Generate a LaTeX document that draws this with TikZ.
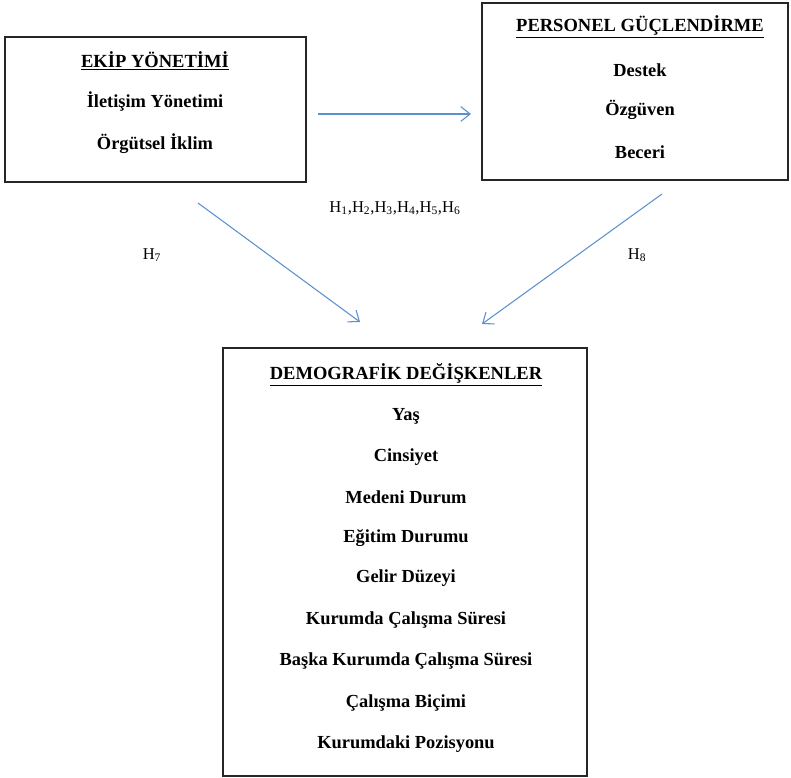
\documentclass[tikz,border=0pt]{standalone}
\usepackage{fontspec}
\setmainfont{Liberation Serif}
\usepackage{tikz}
\usetikzlibrary{arrows.meta}

\definecolor{okmavi}{RGB}{91,145,205}

\tikzset{
  kutu/.style={draw=black!85, line width=0.8pt, inner sep=0pt},
  baslik/.style={font=\fontsize{13.9}{16}\selectfont\bfseries, inner sep=0.75pt},
  madde/.style={font=\fontsize{13.8}{16}\selectfont\bfseries, inner sep=0.75pt},
  etiket/.style={font=\fontsize{12.4}{14}\selectfont, inner sep=0.75pt},
  ok/.style={draw=okmavi, line width=0.8pt, -{Straight Barb[length=7pt,width=11pt,line width=0.8pt]}}
}

\begin{document}
\begin{tikzpicture}[x=0.75pt,y=0.75pt,yscale=-1,xscale=1]
\useasboundingbox (0,0) rectangle (791,777);

% Kutular
\node [kutu, minimum width=301*0.75pt, minimum height=145*0.75pt] (ekip) at (155.5,109.5) {};
\node [kutu, minimum width=306*0.75pt, minimum height=177*0.75pt] (personel) at (635,91.5) {};
\node [kutu, minimum width=364*0.75pt, minimum height=428*0.75pt] (demo) at (405,562) {};

% Ekip yonetimi
\node [baslik] (ekipB) at (155,61) {\underline{EKİP YÖNETİMİ}};
\node [madde] (ekip1) at (155,102) {İletişim Yönetimi};
\node [madde] (ekip2) at (155,144) {Örgütsel İklim};

% Personel guclendirme
\node [baslik] (persB) at (640,27) {\underline{PERSONEL GÜÇLENDİRME}};
\node [madde] (pers1) at (640,70) {Destek};
\node [madde] (pers2) at (640,110) {Özgüven};
\node [madde] (pers3) at (640,152) {Beceri};

% Demografik degiskenler
\node [baslik] (demoB) at (406,375) {\underline{DEMOGRAFİK DEĞİŞKENLER}};
\node [madde] (demo1) at (406,416) {Yaş};
\node [madde] (demo2) at (406,457) {Cinsiyet};
\node [madde] (demo3) at (406,497) {Medeni Durum};
\node [madde] (demo4) at (406,538) {Eğitim Durumu};
\node [madde] (demo5) at (406,578) {Gelir Düzeyi};
\node [madde] (demo6) at (406,620) {Kurumda Çalışma Süresi};
\node [madde] (demo7) at (406,661) {Başka Kurumda Çalışma Süresi};
\node [madde] (demo8) at (406,703) {Çalışma Biçimi};
\node [madde] (demo9) at (406,744) {Kurumdaki Pozisyonu};

% Ok uclari
\coordinate (a1) at (318,114);
\coordinate (a2) at (471,114);
\coordinate (b1) at (198,203);
\coordinate (b2) at (360,322);
\coordinate (c1) at (662,194);
\coordinate (c2) at (482,324);

\draw [ok] (a1) -- (a2);
\draw [ok] (b1) -- (b2);
\draw [ok] (c1) -- (c2);

% Hipotez etiketleri
\node [etiket] (h16) at (395,208) {H\textsubscript{1},H\textsubscript{2},H\textsubscript{3},H\textsubscript{4},H\textsubscript{5},H\textsubscript{6}};
\node [etiket] (h7) at (152,255) {H\textsubscript{7}};
\node [etiket] (h8) at (637,255) {H\textsubscript{8}};

\end{tikzpicture}
\end{document}
